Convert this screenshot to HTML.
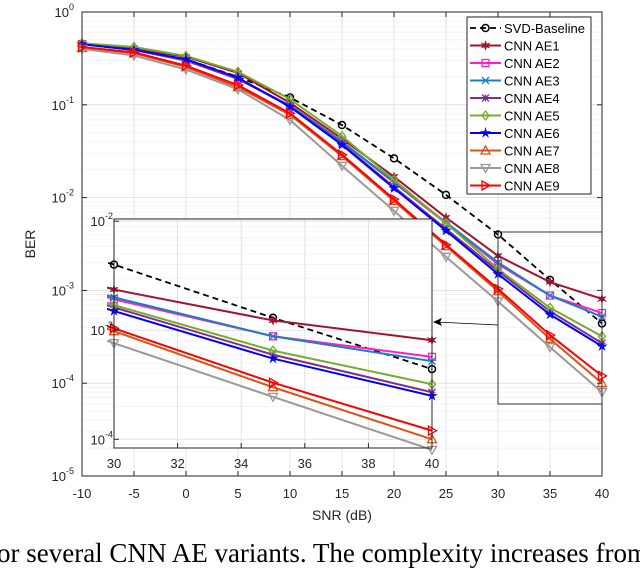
<!DOCTYPE html>
<html><head><meta charset="utf-8"><style>
html,body{margin:0;padding:0;background:#fff;width:640px;height:557px;overflow:hidden}
svg{display:block}
text{font-family:"Liberation Sans",sans-serif}
.cap{position:absolute;left:-12px;top:540px;font-family:"Liberation Serif",serif;font-size:27px;line-height:27px;white-space:nowrap;color:#000}
</style></head><body>
<svg id="chart" width="640" height="557" xmlns="http://www.w3.org/2000/svg"></svg>
<div class="cap">for several CNN AE variants. The complexity increases from</div>
<script>
const snr = [-10,-5,0,5,10,15,20,25,30,35,40];
const xTicks = [-10,-5,0,5,10,15,20,25,30,35,40];
const yTickExp = [0,-1,-2,-3,-4,-5];
const insetXTicks = [30,32,34,36,38,40];
const insetYTickExp = [-2,-3,-4];
const seriesNames = ["SVD-Baseline","CNN AE1","CNN AE2","CNN AE3","CNN AE4","CNN AE5","CNN AE6","CNN AE7","CNN AE8","CNN AE9"];
const svdBer = [0.45,0.39,0.31,0.20,0.12,0.0605,0.0265,0.0107,4.0e-3,1.3e-3,4.4e-4];
const ae1Ber = [0.46,0.40,0.33,0.22,0.105,0.043,0.0168,6.1e-3,2.36e-3,1.23e-3,8.1e-4];
const ae2Ber = [0.45,0.39,0.30,0.19,0.098,0.040,0.0145,5.3e-3,1.92e-3,8.8e-4,5.7e-4];
const ae3Ber = [0.45,0.39,0.30,0.19,0.098,0.040,0.0148,5.4e-3,2.0e-3,8.8e-4,5.2e-4];
const ae4Ber = [0.45,0.39,0.30,0.19,0.096,0.038,0.013,4.6e-3,1.62e-3,5.96e-4,2.7e-4];
const ae5Ber = [0.46,0.42,0.336,0.227,0.115,0.046,0.0155,5.3e-3,1.7e-3,6.5e-4,3.2e-4];
const ae6Ber = [0.45,0.39,0.31,0.196,0.095,0.037,0.0126,4.4e-3,1.5e-3,5.5e-4,2.5e-4];
const ae7Ber = [0.41,0.36,0.255,0.155,0.078,0.028,0.0092,3.0e-3,9.8e-4,3.0e-4,1.0e-4];
const ae8Ber = [0.40,0.34,0.24,0.147,0.0686,0.022,7.2e-3,2.3e-3,7.6e-4,2.45e-4,8.0e-5];
const ae9Ber = [0.42,0.367,0.264,0.163,0.081,0.029,0.0096,3.1e-3,1.04e-3,3.3e-4,1.2e-4];
const allSeries = [svdBer,ae1Ber,ae2Ber,ae3Ber,ae4Ber,ae5Ber,ae6Ber,ae7Ber,ae8Ber,ae9Ber];

const colors = ["#000","#A2142F","#FF1FC8","#1A7FC0","#7E2F8E","#77AC30","#0000FF","#D95319","#999999","#FF0000"];
const markers = ["circle","hexstar","square","x","asterisk","diamond","star","tri-up","tri-down","tri-right"];
const NS="http://www.w3.org/2000/svg";
const svg=document.getElementById('chart');
function mk(tag,attrs,parent){const e=document.createElementNS(NS,tag);for(const k in attrs)e.setAttribute(k,attrs[k]);(parent||svg).appendChild(e);return e;}

const M={l:82,r:602,t:12,b:476,xmin:-10,xmax:40,ymin:-5,ymax:0};
const xS=v=>M.l+(v-M.xmin)/(M.xmax-M.xmin)*(M.r-M.l);
const yS=v=>M.t+(M.ymax-Math.log10(v))/(M.ymax-M.ymin)*(M.b-M.t);
const I={l:114,r:432,t:219,b:448,xmin:30,xmax:40,ymax:-1.98,ymin:-4.08};
const ixS=v=>I.l+(v-I.xmin)/(I.xmax-I.xmin)*(I.r-I.l);
const iyS=v=>I.t+(I.ymax-Math.log10(v))/(I.ymax-I.ymin)*(I.b-I.t);

function drawMarker(g,type,x,y,c,s){
  s=s||3.5;
  if(type==="circle")mk('circle',{cx:x,cy:y,r:s,fill:'none',stroke:c,'stroke-width':1.5},g);
  else if(type==="square")mk('rect',{x:x-s,y:y-s,width:2*s,height:2*s,fill:'none',stroke:c,'stroke-width':1.3},g);
  else if(type==="diamond")mk('polygon',{points:`${x},${y-s-1} ${x+s},${y} ${x},${y+s+1} ${x-s},${y}`,fill:'none',stroke:c,'stroke-width':1.3},g);
  else if(type==="x")mk('path',{d:`M${x-s} ${y-s}L${x+s} ${y+s}M${x-s} ${y+s}L${x+s} ${y-s}`,stroke:c,'stroke-width':1.3},g);
  else if(type==="asterisk")mk('path',{d:`M${x-s} ${y-s}L${x+s} ${y+s}M${x-s} ${y+s}L${x+s} ${y-s}M${x} ${y-s}L${x} ${y+s}M${x-s} ${y}L${x+s} ${y}`,stroke:c,'stroke-width':1.3},g);
  else if(type==="tri-up")mk('polygon',{points:`${x},${y-s-1} ${x+s+1},${y+s} ${x-s-1},${y+s}`,fill:'none',stroke:c,'stroke-width':1.3},g);
  else if(type==="tri-down")mk('polygon',{points:`${x},${y+s+1} ${x+s+1},${y-s} ${x-s-1},${y-s}`,fill:'none',stroke:c,'stroke-width':1.3},g);
  else if(type==="tri-right")mk('polygon',{points:`${x+s+1},${y} ${x-s},${y-s-1} ${x-s},${y+s+1}`,fill:'none',stroke:c,'stroke-width':1.3},g);
  else if(type==="star"||type==="hexstar"){
    const n=type==="star"?5:6;let p=[];
    for(let i=0;i<2*n;i++){const r=i%2?s*0.45:s+1;const a=-Math.PI/2+i*Math.PI/n;p.push((x+r*Math.cos(a)).toFixed(1)+','+(y+r*Math.sin(a)).toFixed(1));}
    mk('polygon',{points:p.join(' '),fill:c,stroke:c,'stroke-width':0.8},g);
  }
}

const grid=mk('g',{});
mk('rect',{x:M.l,y:M.t,width:M.r-M.l,height:M.b-M.t,fill:'#fff'},grid);
for(let e=-5;e<0;e++)for(let m=2;m<10;m++){const y=yS(m*Math.pow(10,e));mk('line',{x1:M.l,x2:M.r,y1:y,y2:y,stroke:'#e6e6e6','stroke-width':0.8,'stroke-dasharray':'1,1'},grid);}
xTicks.forEach(v=>mk('line',{x1:xS(v),x2:xS(v),y1:M.t,y2:M.b,stroke:'#dcdcdc','stroke-width':0.8},grid));
yTickExp.forEach(e=>mk('line',{x1:M.l,x2:M.r,y1:yS(Math.pow(10,e)),y2:yS(Math.pow(10,e)),stroke:'#dcdcdc','stroke-width':0.8},grid));

function drawSeries(xf,yf,group,clip){
  allSeries.forEach((arr,i)=>{
    const g=mk('g',clip?{'clip-path':clip}:{},group);
    
    
    const pts=snr.map((x,j)=>[xf(x),yf(arr[j])]);
    mk('polyline',{points:pts.map(p=>p.join(',')).join(' '),fill:'none',stroke:colors[i],'stroke-width':i===0?1.8:2,'stroke-dasharray':i===0?'6,4':'none'},g);
    pts.forEach(p=>drawMarker(g,markers[i],p[0],p[1],colors[i]));
  });
}
const defs=mk('defs',{});
const cp=mk('clipPath',{id:'mainclip'},defs);mk('rect',{x:M.l-6,y:M.t-6,width:M.r-M.l+12,height:M.b-M.t+12},cp);
const cp2=mk('clipPath',{id:'insclip'},defs);mk('rect',{x:I.l-7,y:I.t,width:I.r-I.l+14,height:I.b-I.t+8},cp2);

const mainS=mk('g',{});
drawSeries(xS,yS,mainS,'url(#mainclip)');

const ax=mk('g',{});
mk('rect',{x:M.l,y:M.t,width:M.r-M.l,height:M.b-M.t,fill:'none',stroke:'#262626','stroke-width':1},ax);
xTicks.forEach(v=>{const x=xS(v);mk('line',{x1:x,x2:x,y1:M.b,y2:M.b-5,stroke:'#262626'},ax);mk('line',{x1:x,x2:x,y1:M.t,y2:M.t+5,stroke:'#262626'},ax);
 const t=mk('text',{x:x,y:M.b+22,'text-anchor':'middle','font-size':13,fill:'#262626'},ax);t.textContent=v;});
yTickExp.forEach(e=>{const y=yS(Math.pow(10,e));mk('line',{x1:M.l,x2:M.l+5,y1:y,y2:y,stroke:'#262626'},ax);mk('line',{x1:M.r,x2:M.r-5,y1:y,y2:y,stroke:'#262626'},ax);
 const t=mk('text',{x:M.l-8,y:y+5,'text-anchor':'end','font-size':13,fill:'#262626'},ax);
 t.appendChild(document.createTextNode('10'));const s=mk('tspan',{dy:-7,'font-size':9},t);s.textContent=String(e);});
const xl=mk('text',{x:342,y:520,'text-anchor':'middle','font-size':14,fill:'#262626'});xl.textContent='SNR (dB)';

const yl=mk('text',{x:0,y:0,transform:'translate(35,244) rotate(-90)','text-anchor':'middle','font-size':14,fill:'#262626'});yl.textContent='BER';


const zb=mk('rect',{x:498,y:232,width:104,height:172,fill:'none',stroke:'#333','stroke-width':1});

const ar=mk('g',{});
mk('line',{x1:498,y1:325,x2:436,y2:322,stroke:'#000','stroke-width':0.8},ar);
mk('polygon',{points:'433,322 442,318 440,322 442,326',fill:'#000'},ar);

const ins=mk('g',{});
mk('rect',{x:I.l,y:I.t,width:I.r-I.l,height:I.b-I.t,fill:'#fff'},ins);
for(let e=-5;e<-1;e++)for(let m=2;m<10;m++){const v=m*Math.pow(10,e);const y=iyS(v);if(y>I.t&&y<I.b)mk('line',{x1:I.l,x2:I.r,y1:y,y2:y,stroke:'#e6e6e6','stroke-width':0.8,'stroke-dasharray':'1,1'},ins);}
insetXTicks.forEach(v=>mk('line',{x1:ixS(v),x2:ixS(v),y1:I.t,y2:I.b,stroke:'#dcdcdc','stroke-width':0.8},ins));
insetYTickExp.forEach(e=>{const y=iyS(Math.pow(10,e));mk('line',{x1:I.l,x2:I.r,y1:y,y2:y,stroke:'#dcdcdc','stroke-width':0.8},ins);});
drawSeries(ixS,iyS,ins,'url(#insclip)');
mk('rect',{x:I.l,y:I.t,width:I.r-I.l,height:I.b-I.t,fill:'none',stroke:'#262626','stroke-width':1},ins);
insetXTicks.forEach(v=>{const x=ixS(v);mk('line',{x1:x,x2:x,y1:I.b,y2:I.b-5,stroke:'#262626'},ins);
 const t=mk('text',{x:x,y:I.b+20,'text-anchor':'middle','font-size':13,fill:'#262626'},ins);t.textContent=v;});
insetYTickExp.forEach(e=>{const y=iyS(Math.pow(10,e));mk('line',{x1:I.l,x2:I.l+5,y1:y,y2:y,stroke:'#262626'},ins);
 const t=mk('text',{x:I.l-1,y:y+5,'text-anchor':'end','font-size':13,fill:'#262626'},ins);
 t.appendChild(document.createTextNode('10'));const s=mk('tspan',{dy:-7,'font-size':9},t);s.textContent=String(e);});

const lg=mk('g',{});
mk('rect',{x:467,y:17,width:124,height:177,fill:'#fff',stroke:'#262626','stroke-width':1},lg);
seriesNames.forEach((n,i)=>{
  const y=28+i*17.5;
  const e=mk('g',{},lg);
  
  
  mk('line',{x1:470,x2:501,y1:y,y2:y,stroke:colors[i],'stroke-width':i===0?1.8:2,'stroke-dasharray':i===0?'6,4':'none'},e);
  drawMarker(e,markers[i],485.5,y,colors[i]);
  const t=mk('text',{x:504,y:y+5,'font-size':13,fill:'#000'},e);t.textContent=n;
});
</script>
</body></html>
